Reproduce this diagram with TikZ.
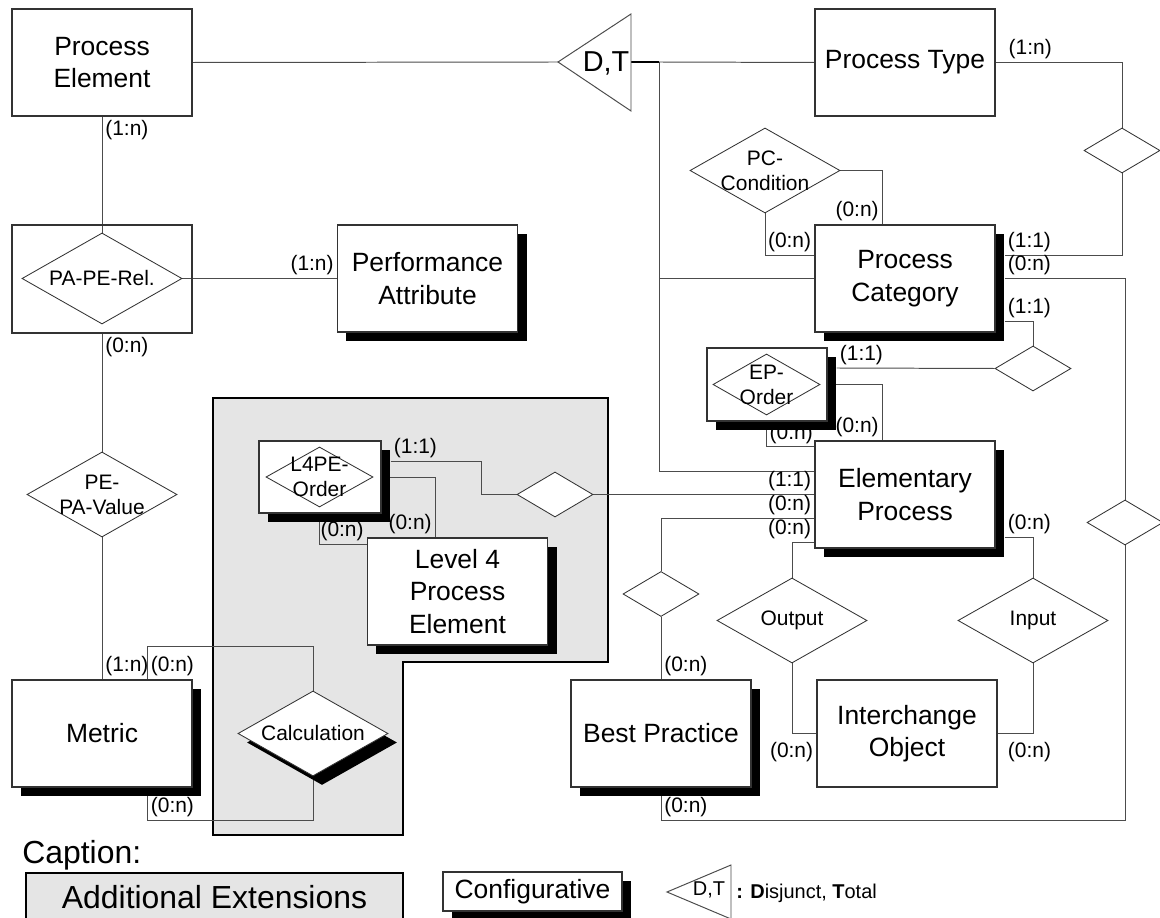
\documentclass[tikz,border=0pt]{standalone}
\usepackage{fontspec}
\setmainfont{Liberation Sans}
\usetikzlibrary{shapes.geometric,shadows,calc,backgrounds}

\newcommand\entfont{\fontsize{18.8}{23.2}\selectfont}
\newcommand\relfont{\fontsize{14.9}{17.7}\selectfont}
\newcommand\capfont{\fontsize{22.7}{26}\selectfont}
\newcommand\dtfont{\fontsize{20.5}{24}\selectfont}
\newcommand\dtsmall{\fontsize{14.2}{16}\selectfont}

\tikzset{
  line/.style={draw=black!70, line width=0.7pt},
  entity/.style={rectangle, draw=black!80, line width=0.8pt, fill=white,
    minimum width=4.5cm, minimum height=2.675cm, inner sep=0pt,
    align=center, font=\entfont},
  config/.style={entity, drop shadow={shadow xshift=0.225cm,
    shadow yshift=-0.225cm, fill=black, opacity=1}},
  rel/.style={diamond, draw=black!80, line width=0.6pt, fill=white,
    inner sep=0pt, minimum width=3.75cm, minimum height=2.125cm},
  smallrel/.style={rel, minimum width=1.9cm, minimum height=1.125cm},
  reltext/.style={align=center, font=\relfont, inner sep=0pt},
  card/.style={font=\relfont, inner sep=2pt},
}

\begin{document}
\begin{tikzpicture}[x=0.025cm, y=-0.025cm]
\useasboundingbox (0,0) rectangle (1160,918);

% entity types
\node[entity] (pe) at (102,62.5) {Process\\Element};
\node[entity] (ptype) at (905,62.5) {Process Type};
\node[config] (pcat) at (905,278.5) {Process\\Category};
\node[config] (perf) at (427.5,278.5) {Performance\\Attribute};
\node[config] (ep) at (905,494.5) {Elementary\\Process};
\node[config] (l4pe) at (457.5,591.5) {Level 4\\Process\\Element};
\node[config] (metric) at (102,733.5) {Metric};
\node[config] (bp) at (661,733.5) {Best Practice};
\node[entity] (io) at (907,733.5) {Interchange\\Object};

% relationship types
\node[entity, fill=none, minimum height=2.7cm] (papebox) at (102,279) {};
\node[rel, minimum width=4cm, minimum height=2.275cm,
  label={[reltext]center:PA-PE-Rel.}] (papediam) at (102,278.5) {};
\node[rel, label={[reltext]center:PE-\\PA-Value}] (pepa) at (102,494.5) {};
\node[rel, label={[reltext]center:PC-\\Condition}] (pccond) at (765,170.5) {};
\node[rel, drop shadow={shadow xshift=0.225cm, shadow yshift=-0.225cm,
  fill=black, opacity=1},
  label={[reltext]center:Calculation}] (calcrel) at (313,733.5) {};
\node[rel, label={[reltext]center:Output}] (output) at (792,620.5) {};
\node[rel, label={[reltext]center:Input}] (input) at (1033,620.5) {};
\node[smallrel] (ptrel) at (1122,150.5) {};
\node[smallrel] (pcrel) at (1033,368.5) {};
\node[smallrel] (bpdia) at (1125,522.5) {};
\node[smallrel] (l4rel) at (555,494.5) {};
\node[smallrel] (bprel) at (661,594) {};

% order relations (reinterpreted)
\node[config, minimum width=3cm, minimum height=1.825cm] (epordbox) at (767,384.5) {};
\node[rel, minimum width=2.675cm, minimum height=1.525cm,
  label={[reltext]center:EP-\\Order}] (epord) at (766.5,384.5) {};
\node[config, minimum width=3.05cm, minimum height=1.8cm] (l4ordbox) at (320,477) {};
\node[rel, minimum width=2.675cm, minimum height=1.5cm,
  label={[reltext]center:L4PE-\\Order}] (l4ord) at (319.5,477) {};

% generalization
\coordinate (gtip) at (558,62);
\coordinate (gbase) at (631,62);
\coordinate (gbus) at (659,62);
\draw[line, fill=white] (gtip) -- (631,14) -- (631,111) -- cycle;
\node[font=\dtfont, inner sep=0pt] (gen) at (606,63) {D,T};

\begin{scope}[on background layer]
  % additional extensions
  \filldraw[fill=gray!20, draw=black, line width=1.3pt]
    (213,398) -- (608,398) -- (608,662) -- (403,662) -- (403,835) -- (213,835) -- cycle;

  \draw[line] (pe.east) -- (gtip);
  \draw[line, line width=1.1pt, draw=black] (gbase) -- (gbus);
  \draw[line] (gbus) -- (ptype.west);
  \draw[line] (gbus) |- (pcat.west);
  \draw[line] (gbus) |- ($(ep.west)+(0,-23.5)$);

  \draw[line] (pe.south) -- node[card, pos=0, anchor=north west] (k1) {(1:n)} (papediam.north);
  \draw[line] (papediam.east) -- node[card, pos=1, anchor=south east] (k2) {(1:n)} (perf.west);
  \draw[line] (papebox.south) -- node[card, pos=0, anchor=north west] (k3) {(0:n)} (pepa.north);
  \draw[line] (pepa.south) -- node[card, pos=1, anchor=south west] (k4) {(1:n)} (metric.north);

  \draw[line] (calcrel.north) |- ($(metric.north east)+(-45,-33)$)
    -- node[card, pos=1, anchor=south west] (k5) {(0:n)} ($(metric.north east)+(-45,0)$);
  \draw[line] (calcrel.south) |- ($(metric.south east)+(-45,33)$)
    -- node[card, pos=0, anchor=south west] (k6) {(0:n)} ($(metric.south east)+(-45,0)$);

  \draw[line] (pccond.east) -| node[card, pos=1, anchor=south east] (k7) {(0:n)} ($(pcat.north)+(-23,0)$);
  \draw[line] (pccond.south) |- node[card, pos=1, anchor=south east] (k8) {(0:n)} ($(pcat.west)+(0,-23.5)$);

  \draw[line] (ptype.east) -| node[card, pos=0, anchor=south west, xshift=7pt] (k9) {(1:n)} (ptrel.north);
  \draw[line] (ptrel.south) |- node[card, pos=1, anchor=south west] (k10) {(1:1)} ($(pcat.east)+(9,-23.5)$);
  \draw[line] ($(pcat.east)+(9,0)$) -| node[card, pos=0, anchor=south west] (k11) {(0:n)} (bpdia.north);
  \draw[line] (bpdia.south) |- ($(bp.south)+(0,33)$)
    -- node[card, pos=0, anchor=south west] (k12) {(0:n)} (bp.south);
  \draw[line] ($(pcat.east)+(9,42.5)$) -| node[card, pos=0, anchor=south west] (k13) {(1:1)} (pcrel.north);
  \draw[line] (pcrel.west) -- node[card, pos=1, anchor=south west] (k14) {(1:1)} ($(epordbox.east)+(9,-16.5)$);
  \draw[line] (epord.east) -| node[card, pos=1, anchor=south east] (k15) {(0:n)} ($(ep.north)+(-23,0)$);
  \draw[line] (epord.south) |- ($(ep.west)+(0,-48.5)$);

  \draw[line] ($(l4ordbox.east)+(9,-16)$) -| node[card, pos=0, anchor=south west] (k17) {(1:1)} ($(l4rel.west)+(-35,0)$) -- (l4rel.west);
  \draw[line] (l4ord.east) -| node[card, pos=1, anchor=south east] (k18) {(0:n)} ($(l4pe.north)+(-22.5,0)$);
  \draw[line] (l4ord.south) |- node[card, pos=1, anchor=south east] (k19) {(0:n)} ($(l4pe.west)+(0,-47.5)$);
  \draw[line] (l4rel.east) -- node[card, pos=1, anchor=south east] (k20) {(1:1)} (ep.west);

  \draw[line] (bprel.north) |- node[card, pos=1, anchor=south east] (k21) {(0:n)} ($(ep.west)+(0,23.5)$);
  \draw[line] (bprel.south) -- node[card, pos=1, anchor=south west] (k22) {(0:n)} (bp.north);
  \draw[line] (output.north) |- node[card, pos=1, anchor=south east] (k23) {(0:n)} ($(ep.west)+(0,47.5)$);
  \draw[line] ($(ep.east)+(9,42.5)$) -| node[card, pos=0, anchor=south west] (k24) {(0:n)} (input.north);
  \draw[line] (output.south) |- node[card, pos=1, anchor=north east, yshift=-4pt] (k25) {(0:n)} (io.west);
  \draw[line] (input.south) |- node[card, pos=1, anchor=north west, xshift=5pt, yshift=-4pt] (k26) {(0:n)} (io.east);
\end{scope}
\node[card, inner sep=1pt, anchor=south east] (k16) at ($(ep.west)+(0,-48.5)$) {(0:n)};

% caption
\node[anchor=base west, font=\capfont, inner sep=0pt] (captitle) at (22,863) {Caption:};
\node[draw=black, line width=0.8pt, fill=gray!20, minimum width=9.425cm,
  minimum height=1.2cm, inner sep=0pt, font=\capfont] (legadd) at (214.5,897) {Additional Extensions};
\node[config, minimum width=4.475cm, minimum height=0.975cm] (legconf) at (532.5,891.5) {Configurative};
\coordinate (ltip) at (667,892);
\draw[line, fill=white] (ltip) -- (731,865) -- (731,919) -- cycle;
\node[font=\dtsmall, inner sep=0pt] (legdt) at (709,890) {D,T};
\node[anchor=west, font=\dtsmall, inner sep=0pt] (legtxt) at (736,893)
  {\textbf{:} \textbf{D}isjunct, \textbf{T}otal};

\end{tikzpicture}
\end{document}
